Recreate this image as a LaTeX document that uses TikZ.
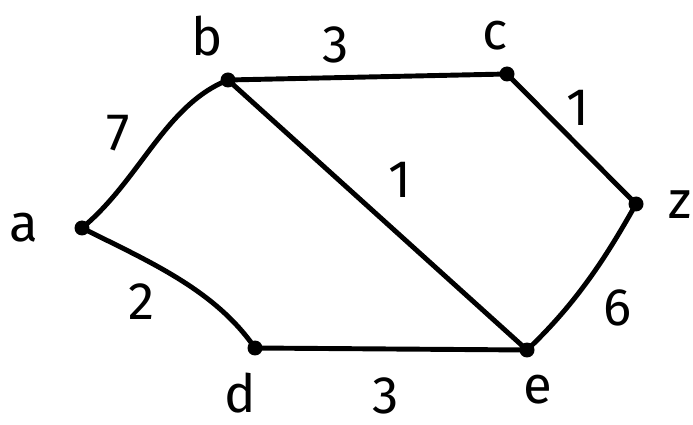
\documentclass[tikz,border=0pt]{standalone}
\usepackage{fontspec}
\setmainfont{Fira Sans}
\begin{document}
\begin{tikzpicture}[x=0.02cm,y=-0.02cm,
  vtx/.style={circle,fill=black,inner sep=0pt,minimum size=0.3cm},
  lbl/.style={font=\fontsize{30}{30}\selectfont,inner sep=0pt},
  edge/.style={line width=2.8pt,line cap=round,line join=round}]
\useasboundingbox (0,0) rectangle (693,425);
\node[vtx] (a) at (82,228) {};
\node[vtx] (b) at (228,80) {};
\node[vtx] (c) at (507,74) {};
\node[vtx] (z) at (636,204) {};
\node[vtx] (e) at (527,350) {};
\node[vtx] (d) at (255,348) {};
\node[lbl] (la) at (24,228) {a};
\node[lbl] (lb) at (207,36) {b};
\node[lbl] (lc) at (495,36) {c};
\node[lbl] (lz) at (680,205) {z};
\node[lbl] (le) at (538,390) {e};
\node[lbl] (ld) at (240,393) {d};
\draw[edge] (a.center) .. controls (140,180) and (165,105) .. (b.center);
\draw[edge] (a.center) .. controls (150,262) and (215,290) .. (d.center);
\draw[edge] (b.center) -- (c.center);
\draw[edge] (c.center) -- (z.center);
\draw[edge] (b.center) -- (e.center);
\draw[edge] (d.center) -- (e.center);
\draw[edge] (z.center) .. controls (610,250) and (580,300) .. (e.center);
\node[lbl] (w1) at (336,45) {3};
\node[lbl] (w2) at (578,108) {1};
\node[lbl] (w3) at (118,133) {7};
\node[lbl] (w4) at (142,302) {2};
\node[lbl] (w5) at (400,180) {1};
\node[lbl] (w6) at (618,308) {6};
\node[lbl] (w7) at (386,396) {3};
\end{tikzpicture}
\end{document}
